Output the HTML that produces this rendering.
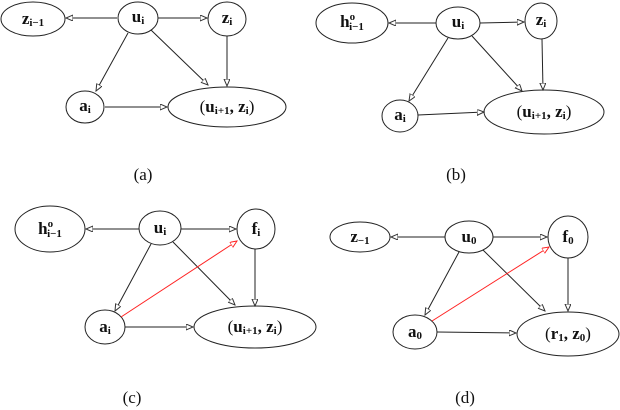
<!DOCTYPE html>
<html><head><meta charset="utf-8"><style>body{margin:0;background:#fff}svg{display:block}
text{font-family:"Liberation Serif",serif;font-weight:bold;font-size:17px;fill:#111}
.c{font-weight:normal;font-size:17px}
tspan.s{font-size:11px}
</style></head><body>
<svg width="620" height="410" viewBox="0 0 620 410" xmlns="http://www.w3.org/2000/svg">
<defs>
<marker id="m" markerWidth="8" markerHeight="8" refX="7" refY="3" orient="auto" markerUnits="userSpaceOnUse"><path d="M0,0 L7,3 L0,6 Z" fill="#fff" stroke="#333" stroke-width="1"/></marker>
<marker id="r" markerWidth="8" markerHeight="8" refX="7" refY="3" orient="auto" markerUnits="userSpaceOnUse"><path d="M0,0 L7,3 L0,6 Z" fill="#fff" stroke="#f22" stroke-width="1"/></marker>
</defs>
<g fill="none" stroke="#222" stroke-width="1">
<ellipse cx="33" cy="19" rx="32" ry="17"/><ellipse cx="138" cy="18" rx="20" ry="16"/><ellipse cx="227" cy="19" rx="19" ry="17"/><ellipse cx="85" cy="107" rx="19" ry="16"/><ellipse cx="227" cy="107" rx="59" ry="20"/>
<g marker-end="url(#m)"><line x1="117" y1="18" x2="66" y2="18"/><line x1="158" y1="18" x2="207" y2="18"/><line x1="128" y1="33" x2="96" y2="91"/><line x1="151" y1="30" x2="208" y2="85"/><line x1="227" y1="36" x2="227" y2="86"/><line x1="105" y1="107" x2="167" y2="107"/></g>
<ellipse cx="352" cy="23" rx="36" ry="20"/><ellipse cx="458" cy="23" rx="22" ry="16"/><ellipse cx="541" cy="21" rx="16" ry="18"/><ellipse cx="400" cy="116" rx="18" ry="16"/><ellipse cx="544" cy="112" rx="60" ry="22"/>
<g marker-end="url(#m)"><line x1="436" y1="23" x2="389" y2="23"/><line x1="480" y1="23" x2="524" y2="22"/><line x1="448" y1="38" x2="409" y2="101"/><line x1="472" y1="36" x2="522" y2="91"/><line x1="542" y1="39" x2="543" y2="90"/><line x1="418" y1="115" x2="484" y2="112"/></g>
<ellipse cx="50" cy="229" rx="35" ry="23"/><ellipse cx="160" cy="228" rx="21" ry="17"/><ellipse cx="256" cy="229" rx="19" ry="20"/><ellipse cx="105" cy="327" rx="20" ry="17"/><ellipse cx="255" cy="327" rx="61" ry="21"/>
<g marker-end="url(#m)"><line x1="139" y1="229" x2="86" y2="229"/><line x1="181" y1="229" x2="236" y2="229"/><line x1="151" y1="244" x2="115" y2="311"/><line x1="173" y1="242" x2="235" y2="305"/><line x1="255" y1="249" x2="255" y2="306"/><line x1="125" y1="327" x2="193" y2="327"/></g>
<line x1="121" y1="317" x2="237" y2="241" stroke="#f22" marker-end="url(#r)"/>
<ellipse cx="360" cy="237" rx="30" ry="15"/><ellipse cx="469" cy="237" rx="24" ry="16"/><ellipse cx="568" cy="237" rx="20" ry="21"/><ellipse cx="415" cy="332" rx="22" ry="17"/><ellipse cx="568" cy="334" rx="51" ry="22"/>
<g marker-end="url(#m)"><line x1="445" y1="237" x2="391" y2="237"/><line x1="493" y1="237" x2="547" y2="237"/><line x1="459" y1="252" x2="425" y2="315"/><line x1="483" y1="250" x2="545" y2="311"/><line x1="568" y1="258" x2="568" y2="311"/><line x1="437" y1="332" x2="516" y2="333"/></g>
<line x1="432" y1="321" x2="549" y2="247" stroke="#f22" marker-end="url(#r)"/>
</g>
<text x="33" y="24" text-anchor="middle">z<tspan class="s" dy="2">i−1</tspan></text>
<text x="138" y="22" text-anchor="middle">u<tspan class="s" dy="2">i</tspan></text>
<text x="227" y="23" text-anchor="middle">z<tspan class="s" dy="2">i</tspan></text>
<text x="85" y="111" text-anchor="middle">a<tspan class="s" dy="2">i</tspan></text>
<text x="227" y="112" text-anchor="middle"><tspan font-weight="normal">(</tspan>u<tspan class="s" dy="2">i+1</tspan><tspan dy="-2">, z</tspan><tspan class="s" dy="2">i</tspan><tspan dy="-2" font-weight="normal">)</tspan></text>
<text x="143" y="180" text-anchor="middle" class="c">(a)</text>

<text x="352" y="27" text-anchor="middle">h<tspan class="s" dy="-7">o</tspan><tspan class="s" dx="-6" dy="10">i−1</tspan></text>
<text x="458" y="27" text-anchor="middle">u<tspan class="s" dy="2">i</tspan></text>
<text x="541" y="25" text-anchor="middle">z<tspan class="s" dy="2">i</tspan></text>
<text x="400" y="120" text-anchor="middle">a<tspan class="s" dy="2">i</tspan></text>
<text x="544" y="117" text-anchor="middle"><tspan font-weight="normal">(</tspan>u<tspan class="s" dy="2">i+1</tspan><tspan dy="-2">, z</tspan><tspan class="s" dy="2">i</tspan><tspan dy="-2" font-weight="normal">)</tspan></text>
<text x="456" y="180" text-anchor="middle" class="c">(b)</text>

<text x="50" y="234" text-anchor="middle">h<tspan class="s" dy="-7">o</tspan><tspan class="s" dx="-6" dy="10">i−1</tspan></text>
<text x="160" y="233" text-anchor="middle">u<tspan class="s" dy="2">i</tspan></text>
<text x="256" y="234" text-anchor="middle">f<tspan class="s" dy="2">i</tspan></text>
<text x="105" y="332" text-anchor="middle">a<tspan class="s" dy="2">i</tspan></text>
<text x="255" y="332" text-anchor="middle"><tspan font-weight="normal">(</tspan>u<tspan class="s" dy="2">i+1</tspan><tspan dy="-2">, z</tspan><tspan class="s" dy="2">i</tspan><tspan dy="-2" font-weight="normal">)</tspan></text>
<text x="132" y="403" text-anchor="middle" class="c">(c)</text>

<text x="360" y="242" text-anchor="middle">z<tspan class="s" dy="2">−1</tspan></text>
<text x="469" y="242" text-anchor="middle">u<tspan class="s" dy="2">0</tspan></text>
<text x="568" y="242" text-anchor="middle">f<tspan class="s" dy="2">0</tspan></text>
<text x="415" y="337" text-anchor="middle">a<tspan class="s" dy="2">0</tspan></text>
<text x="568" y="339" text-anchor="middle"><tspan font-weight="normal">(</tspan>r<tspan class="s" dy="2">1</tspan><tspan dy="-2">, z</tspan><tspan class="s" dy="2">0</tspan><tspan dy="-2" font-weight="normal">)</tspan></text>
<text x="465" y="403" text-anchor="middle" class="c">(d)</text>
</svg>
</body></html>
